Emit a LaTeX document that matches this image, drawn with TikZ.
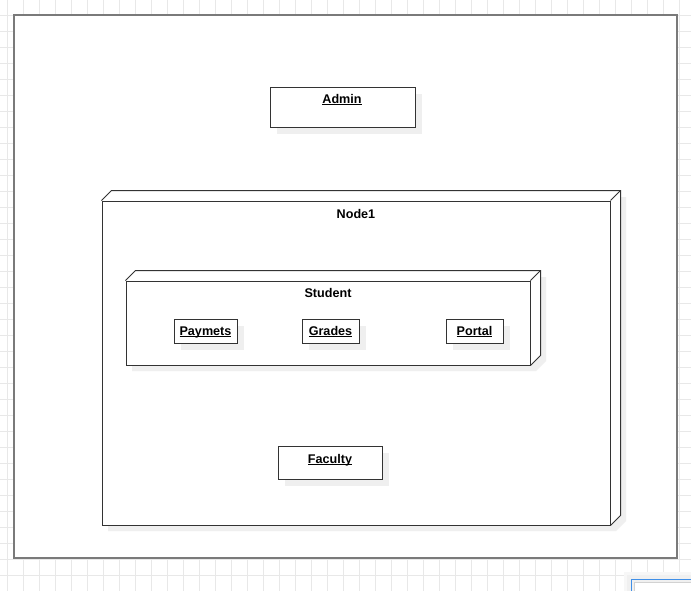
\documentclass[tikz,border=0pt]{standalone}
\usepackage{fontspec}
\setmainfont{Liberation Sans}
\usetikzlibrary{shadows,fit}

% underline sitting just below the baseline
\newcommand{\ulabel}[1]{\setbox0\hbox{#1}\rlap{\rule[-2.2pt]{\wd0}{0.9pt}}\box0}

\definecolor{gridgray}{HTML}{E8E8E8}
\definecolor{framegray}{HTML}{7A7A7A}
\definecolor{edge}{HTML}{333333}
\definecolor{shadowgray}{HTML}{EFEFEF}
\definecolor{selblue}{HTML}{3F8FE8}

\tikzset{
  gridline/.style={draw=gridgray, line width=0.8pt},
  frame/.style={draw=framegray, line width=1.5pt, fill=white},
  umlbox/.style={draw=edge, line width=1pt, fill=white, inner sep=0pt,
    general shadow={fill=shadowgray, shadow xshift=6pt, shadow yshift=-6pt}},
  face/.style={draw=edge, line width=1pt, inner sep=0pt},
  backedge/.style={draw=edge, line width=1pt, line join=miter},
  caption/.style={font=\fontsize{12.6}{15}\selectfont\bfseries, inner sep=0pt, anchor=base},
}

\begin{document}
\begin{tikzpicture}[x=1pt, y=-1pt]
\useasboundingbox (0,0) rectangle (691,590);
\clip (0,0) rectangle (691,590);

% background grid
\foreach \gx in {7,23,...,695} \draw[gridline] (\gx,-2) -- (\gx,592);
\foreach \gy in {-1,15,...,595} \draw[gridline] (-2,\gy) -- (693,\gy);

% outer frame
\draw[frame] (14,15) rectangle (677,558);

% Admin
\node[umlbox, minimum width=145pt, minimum height=40pt, anchor=north west] (admin) at (270,87) {};
\node[caption] (adminlbl) at (342,103) {\ulabel{Admin}};

% Node1 (3D box)
\coordinate (n1a) at (102,201);
\coordinate (n1b) at (610,525);
\fill[shadowgray] ([shift={(6,6)}]n1a) -- ([shift={(16,-4)}]n1a) -- ([shift={(16,-4)}]n1b |- n1a)
  -- ([shift={(16,-4)}]n1b) -- ([shift={(6,6)}]n1b) -- ([shift={(6,6)}]n1a |- n1b) -- cycle;
\fill[white] (n1a) -- ([shift={(10,-10)}]n1a) -- ([shift={(10,-10)}]n1b |- n1a)
  -- ([shift={(10,-10)}]n1b) -- (n1b) -- (n1a |- n1b) -- cycle;
\node[face, fit=(n1a)(n1b)] (node1) {};
\draw[backedge] (node1.north west) -- ++(10,-10) -- ([shift={(10,-10)}]node1.north east)
  -- ([shift={(10,-10)}]node1.south east) -- (node1.south east);
\draw[backedge] (node1.north east) -- ++(10,-10);
\node[caption] (node1lbl) at (356,218) {Node1};

% Student (3D box)
\coordinate (sta) at (126,281);
\coordinate (stb) at (530,365);
\fill[shadowgray] ([shift={(6,6)}]sta) -- ([shift={(16,-4)}]sta) -- ([shift={(16,-4)}]stb |- sta)
  -- ([shift={(16,-4)}]stb) -- ([shift={(6,6)}]stb) -- ([shift={(6,6)}]sta |- stb) -- cycle;
\fill[white] (sta) -- ([shift={(10,-10)}]sta) -- ([shift={(10,-10)}]stb |- sta)
  -- ([shift={(10,-10)}]stb) -- (stb) -- (sta |- stb) -- cycle;
\node[face, fit=(sta)(stb)] (student) {};
\draw[backedge] (student.north west) -- ++(10,-10) -- ([shift={(10,-10)}]student.north east)
  -- ([shift={(10,-10)}]student.south east) -- (student.south east);
\draw[backedge] (student.north east) -- ++(10,-10);
\node[caption] (studentlbl) at (328,297) {Student};

% components inside Student
\node[umlbox, minimum width=63pt, minimum height=24pt, anchor=north west] (paymets) at (174,319) {};
\node[caption] (paymetslbl) at (205.5,335) {\ulabel{Paymets}};
\node[umlbox, minimum width=57pt, minimum height=24pt, anchor=north west] (grades) at (302,319) {};
\node[caption] (gradeslbl) at (330.5,335) {\ulabel{Grades}};
\node[umlbox, minimum width=57pt, minimum height=24pt, anchor=north west] (portal) at (446,319) {};
\node[caption] (portallbl) at (474.5,335) {\ulabel{Portal}};

% Faculty
\node[umlbox, minimum width=104pt, minimum height=33pt, anchor=north west] (faculty) at (278,446) {};
\node[caption] (facultylbl) at (330,463) {\ulabel{Faculty}};

% partly visible selected panel, lower right
\fill[gray!6] (624,572) rectangle (700,600);
\fill[gray!12] (627,575) rectangle (700,600);
\draw[draw=gray!35, line width=0.8pt, fill=white] (634.5,582.5) rectangle (702,602);
\draw[draw=selblue, line width=1.6pt] (631.5,579.5) rectangle (700,600);
\end{tikzpicture}
\end{document}
